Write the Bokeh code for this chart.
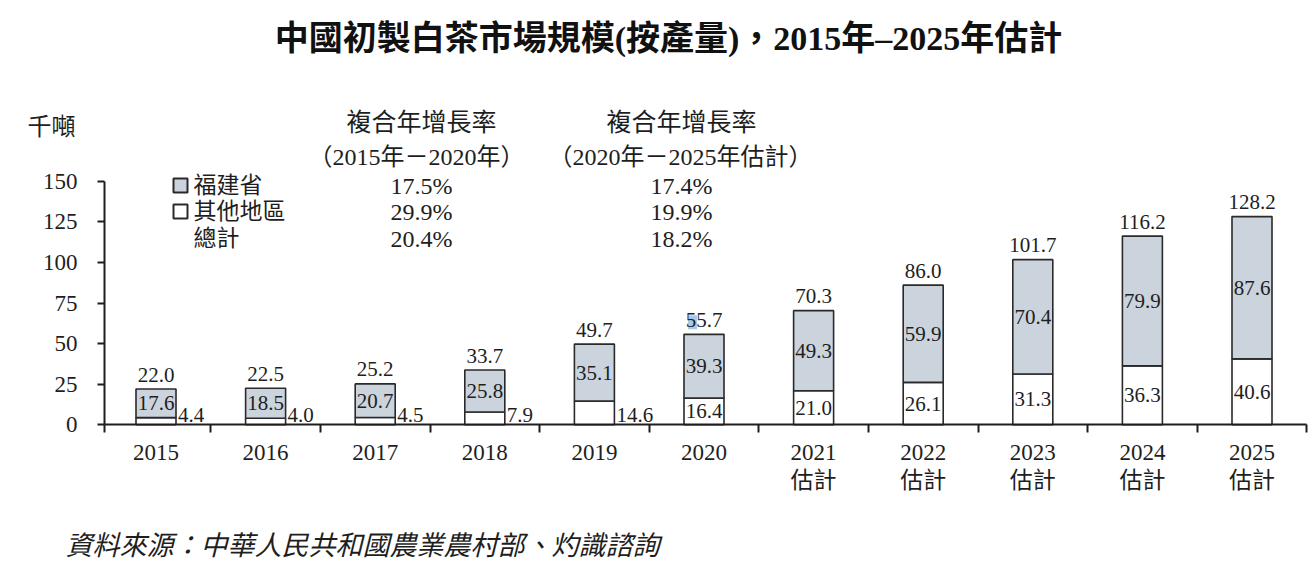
from bokeh.plotting import figure
from bokeh.models import ColumnDataSource, FixedTicker, Range1d, CustomJSTickFormatter
from bokeh.core.properties import value
from bokeh.embed import file_html
from bokeh.resources import INLINE

# ---------------- data ----------------
years = ["2015", "2016", "2017", "2018", "2019", "2020",
         "2021", "2022", "2023", "2024", "2025"]
is_estimate = [False, False, False, False, False, False,
               True, True, True, True, True]
fujian = [17.6, 18.5, 20.7, 25.8, 35.1, 39.3, 49.3, 59.9, 70.4, 79.9, 87.6]
other = [4.4, 4.0, 4.5, 7.9, 14.6, 16.4, 21.0, 26.1, 31.3, 36.3, 40.6]
total = [22.0, 22.5, 25.2, 33.7, 49.7, 55.7, 70.3, 86.0, 101.7, 116.2, 128.2]
y_ticks = [0, 25, 50, 75, 100, 125, 150]

cagr_series = ["福建省", "其他地區", "總計"]
cagr_2015_2020 = ["17.5%", "29.9%", "20.4%"]
cagr_2020_2025 = ["17.4%", "19.9%", "18.2%"]

title_text = "中國初製白茶市場規模(按產量)，2015年–2025年估計"
unit_text = "千噸"
cagr_head = "複合年增長率"
period1 = "（2015年－2020年）"
period2 = "（2020年－2025年估計）"
estimate_text = "估計"
source_text = "資料來源：中華人民共和國農業農村部、灼識諮詢"

# ---------------- layout / style ----------------
W, H = 1308, 573
OFF = 0
CAT_PX = 109.6      # pixels per category
X0_PAGE = 155.5     # x of first category centre
Y0_PAGE = 424.3     # y of value 0
Y_PX = 1.624        # pixels per unit of value

def dx(px):
    return (px - X0_PAGE) / CAT_PX

def dy(py):
    return (Y0_PAGE - py) / Y_PX

FONT = "Liberation Serif, Noto Sans CJK TC"
INK = "#1e1e1e"
GREY = "#cbd3dd"
EDGE = "#2a2a2a"
BAR_W = 0.365
LBL = "21px"

p = figure(width=W, height=H, output_backend="svg", toolbar_location=None,
           x_range=Range1d(dx(OFF), dx(OFF + W)),
           y_range=Range1d(dy(OFF + H), dy(OFF)),
           min_border=0, outline_line_color=None,
           background_fill_color="white", border_fill_color="white")
p.xgrid.visible = False
p.ygrid.visible = False

# axes
y_axis_x = dx(104)
p.yaxis.fixed_location = y_axis_x
p.yaxis.bounds = (y_ticks[0], y_ticks[-1])
p.yaxis.ticker = FixedTicker(ticks=y_ticks)
p.yaxis.major_tick_out = 7
p.yaxis.major_tick_in = 0
p.yaxis.minor_tick_out = 0
p.yaxis.minor_tick_in = 0
p.yaxis.axis_line_width = 2
p.yaxis.axis_line_color = INK
p.yaxis.major_tick_line_width = 2
p.yaxis.major_tick_line_color = INK
p.yaxis.major_label_standoff = 20
p.yaxis.major_label_text_font = FONT
p.yaxis.major_label_text_font_size = "23px"
p.yaxis.major_label_text_color = INK

xt = [y_axis_x] + [i + 0.5 for i in range(len(years))]
p.xaxis.fixed_location = 0
p.xaxis.bounds = (xt[0], xt[-1])
p.xaxis.ticker = FixedTicker(ticks=xt)
p.xaxis.formatter = CustomJSTickFormatter(code="return ''")
p.xaxis.major_tick_out = 8
p.xaxis.major_tick_in = 0
p.xaxis.minor_tick_out = 0
p.xaxis.minor_tick_in = 0
p.xaxis.axis_line_width = 2
p.xaxis.axis_line_color = INK
p.xaxis.major_tick_line_width = 2
p.xaxis.major_tick_line_color = INK

# bars
xs = list(range(len(years)))
src = ColumnDataSource(dict(
    x=xs, other=other, fujian=fujian, total=total,
    total_lbl=[f"{v:.1f}" for v in total],
    total_y=[v + 14.5 / Y_PX for v in total],
    fujian_lbl=[f"{v:.1f}" for v in fujian],
    fujian_mid=[o + f / 2 for o, f in zip(other, fujian)],
))
p.vbar_stack(["other", "fujian"], x="x", width=BAR_W, source=src,
             fill_color=["white", GREY], line_color=EDGE, line_width=1.6)

# selection-like highlight seen behind the first digit of the 2020 total
p.rect(x=[xs[5] - 11.5 / CAT_PX], y=[total[5] + 12 / Y_PX], width=9, height=14,
       width_units="screen", height_units="screen",
       fill_color="#a9c9e6", line_color=None)

# bar labels
p.text(x="x", y="total_y", text="total_lbl", source=src,
       text_align="center", text_baseline="middle",
       text_font=value(FONT), text_font_size=LBL, text_color=INK)
p.text(x="x", y="fujian_mid", text="fujian_lbl", source=src,
       text_align="center", text_baseline="middle",
       text_font=value(FONT), text_font_size=LBL, text_color=INK)

in_x = [x for x, o in zip(xs, other) if o >= 15]
in_v = [o for o in other if o >= 15]
out_x = [x + BAR_W / 2 + 2 / CAT_PX for x, o in zip(xs, other) if o < 15]
out_v = [o for o in other if o < 15]
p.text(x=in_x, y=[v / 2 for v in in_v], text=[f"{v:.1f}" for v in in_v],
       text_align="center", text_baseline="middle",
       text_font=value(FONT), text_font_size=LBL, text_color=INK)
p.text(x=out_x, y=[10 / Y_PX] * len(out_v), text=[f"{v:.1f}" for v in out_v],
       text_align="left", text_baseline="middle",
       text_font=value(FONT), text_font_size=LBL, text_color=INK)

# category labels
p.text(x=xs, y=[dy(452)] * len(xs), text=years,
       text_align="center", text_baseline="middle",
       text_font=value(FONT), text_font_size="23px", text_color=INK)
est_x = [x for x, e in zip(xs, is_estimate) if e]
p.text(x=est_x, y=[dy(480)] * len(est_x), text=[estimate_text] * len(est_x),
       text_align="center", text_baseline="middle",
       text_font=value(FONT), text_font_size="23px", text_color=INK)

# title, unit, source
p.text(x=[dx(668)], y=[dy(38)], text=[title_text],
       text_align="center", text_baseline="middle", text_font_style="bold",
       text_font=value(FONT), text_font_size="34px", text_color="#111111")
p.text(x=[dx(27)], y=[dy(126)], text=[unit_text],
       text_align="left", text_baseline="middle",
       text_font=value(FONT), text_font_size="24px", text_color=INK)
p.text(x=[dx(65)], y=[dy(545)], text=[source_text],
       text_align="left", text_baseline="middle", text_font_style="italic",
       text_font=value(FONT), text_font_size="27px", text_color=INK)

# CAGR table
rows_y = [dy(185), dy(211), dy(238)]
p.text(x=[dx(421), dx(681)], y=[dy(122)] * 2, text=[cagr_head] * 2,
       text_align="center", text_baseline="middle",
       text_font=value(FONT), text_font_size="25px", text_color=INK)
p.text(x=[dx(416), dx(680)], y=[dy(156)] * 2, text=[period1, period2],
       text_align="center", text_baseline="middle",
       text_font=value(FONT), text_font_size="24px", text_color=INK)
p.rect(x=[dx(180)] * 2, y=rows_y[:2], width=14, height=14,
       width_units="screen", height_units="screen",
       fill_color=[GREY, "white"], line_color=EDGE, line_width=2)
p.text(x=[dx(193)] * 3, y=rows_y, text=cagr_series,
       text_align="left", text_baseline="middle",
       text_font=value(FONT), text_font_size="23px", text_color=INK)
p.text(x=[dx(421)] * 3, y=rows_y, text=cagr_2015_2020,
       text_align="center", text_baseline="middle",
       text_font=value(FONT), text_font_size="24px", text_color=INK)
p.text(x=[dx(681)] * 3, y=rows_y, text=cagr_2020_2025,
       text_align="center", text_baseline="middle",
       text_font=value(FONT), text_font_size="24px", text_color=INK)

open("out.html", "w").write(file_html(p, INLINE))
